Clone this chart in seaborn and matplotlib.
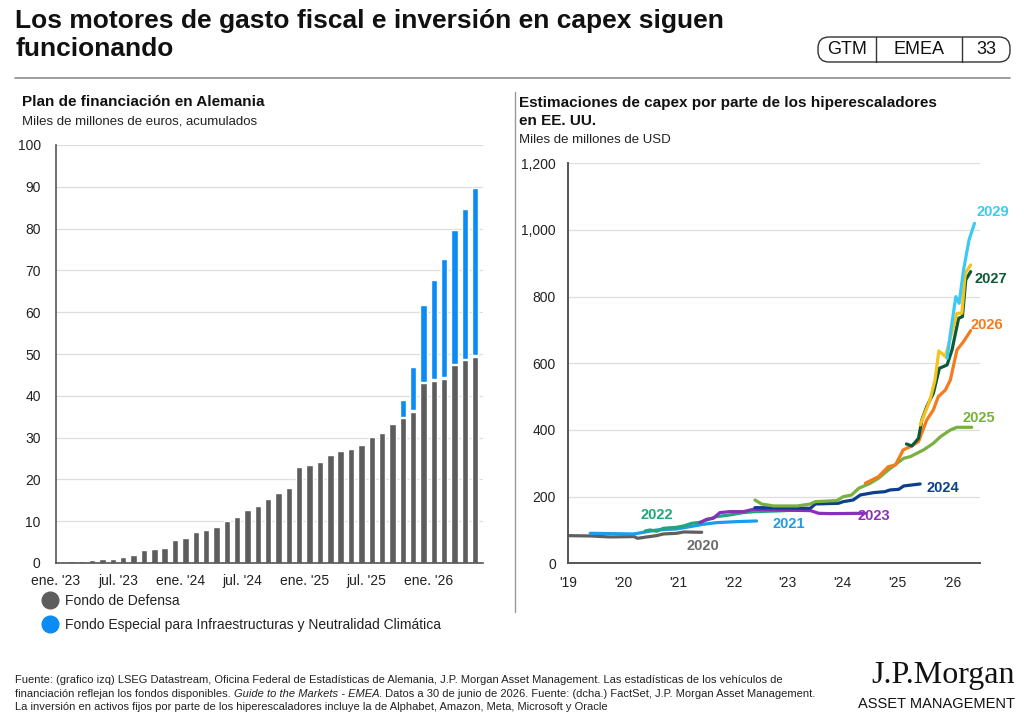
import matplotlib
matplotlib.use("Agg")
import matplotlib.pyplot as plt
import seaborn as sns
import pandas as pd
from matplotlib.lines import Line2D
from matplotlib.patches import FancyBboxPatch
from matplotlib.transforms import IdentityTransform

# ---- datos: plan de financiacion en Alemania (mensual, ene. 2023 - may. 2026)
meses = ["ene.", "feb.", "mar.", "abr.", "may.", "jun.",
         "jul.", "ago.", "sep.", "oct.", "nov.", "dic."]
fechas = [f"{meses[i % 12]} '{23 + i // 12}" for i in range(41)]

defensa = [0.25, 0.4, 0.55, 0.8, 0.9, 1.05, 1.35, 1.9, 3.0, 3.3, 3.7,
           5.6, 6.0, 7.4, 8.0, 8.6, 10.0, 11.0, 12.6, 13.7, 15.4, 16.8,
           17.9, 22.9, 23.5, 24.2, 25.9, 26.7, 27.3, 28.2, 30.1, 31.0,
           33.2, 34.6, 36.2, 43.0, 43.6, 44.1, 47.3, 48.5, 49.4]
especial = [0, 0, 0, 0, 0, 0, 0, 0, 0, 0, 0, 0, 0, 0, 0, 0, 0, 0, 0, 0,
            0, 0, 0, 0, 0, 0, 0, 0, 0, 0, 0, 0, 0,
            4.3, 10.6, 18.7, 24.2, 28.6, 32.3, 36.2, 40.4]
ticks_izq = ["ene. '23", "jul. '23", "ene. '24", "jul. '24",
             "ene. '25", "jul. '25", "ene. '26"]

# ---- datos: estimaciones de capex de los hiperescaladores (por año fiscal)
x2020 = [2019.0, 2019.4, 2019.76, 2020.13, 2020.2, 2020.26, 2020.43, 2020.61,
         2020.73, 2020.97, 2021.1, 2021.43]
y2020 = [83, 82, 79, 80, 80, 75, 79, 83, 88, 90, 94, 93]
x2021 = [2019.4, 2019.8, 2020.19, 2020.37, 2020.61, 2020.97, 2021.22, 2021.46,
         2021.7, 2022.06, 2022.43]
y2021 = [90, 89, 88, 93, 100, 103, 110, 117, 122, 125, 127]
x2022 = [2020.4, 2020.49, 2020.61, 2020.73, 2020.97, 2021.1, 2021.25, 2021.4,
         2021.7, 2021.94, 2022.19, 2022.4, 2022.8, 2023.22, 2023.4]
y2022 = [97, 100, 96, 105, 108, 112, 120, 123, 140, 145, 152, 155, 157, 160, 160]
x2023 = [2021.4, 2021.52, 2021.64, 2021.76, 2021.94, 2022.19, 2022.37, 2022.8,
         2023.41, 2023.47, 2023.56, 2023.77, 2024.4]
y2023 = [122, 132, 135, 152, 155, 155, 162, 160, 158, 155, 150, 149, 150]
x2024 = [2022.4, 2023.0, 2023.41, 2023.5, 2023.92, 2024.01, 2024.19, 2024.32,
         2024.56, 2024.77, 2024.86, 2025.02, 2025.11, 2025.41]
y2024 = [167, 166, 165, 178, 180, 185, 190, 205, 212, 215, 220, 222, 232, 238]
x2025 = [2022.4, 2022.52, 2022.74, 2023.17, 2023.41, 2023.5, 2023.89, 2024.01,
         2024.16, 2024.29, 2024.5, 2024.65, 2024.83, 2024.99, 2025.11, 2025.23,
         2025.47, 2025.65, 2025.78, 2025.96, 2026.08, 2026.35]
y2025 = [190, 178, 172, 172, 178, 185, 188, 200, 205, 225, 240, 255, 280, 300,
         315, 320, 340, 360, 380, 400, 408, 408]
x2026 = [2024.41, 2024.65, 2024.83, 2024.96, 2025.1, 2025.23, 2025.38, 2025.53,
         2025.65, 2025.74, 2025.87, 2025.96, 2026.08, 2026.2, 2026.33]
y2026 = [240, 260, 290, 295, 340, 350, 365, 430, 460, 500, 520, 550, 640, 665, 698]
x2027 = [2025.16, 2025.26, 2025.38, 2025.44, 2025.53, 2025.65, 2025.76, 2025.9,
         2025.99, 2026.11, 2026.18, 2026.24, 2026.33]
y2027 = [358, 352, 375, 430, 470, 510, 585, 595, 640, 735, 740, 850, 875]
x2028 = [2025.41, 2025.59, 2025.68, 2025.75, 2025.87, 2026.08, 2026.17, 2026.23,
         2026.33]
y2028 = [415, 490, 550, 637, 620, 750, 750, 870, 895]
x2029 = [2025.9, 2025.97, 2026.06, 2026.12, 2026.2, 2026.3, 2026.4]
y2029 = [615, 700, 800, 780, 880, 970, 1020]

series = {"2020": (x2020, y2020), "2021": (x2021, y2021), "2022": (x2022, y2022),
          "2023": (x2023, y2023), "2024": (x2024, y2024), "2025": (x2025, y2025),
          "2026": (x2026, y2026), "2027": (x2027, y2027), "2028": (x2028, y2028),
          "2029": (x2029, y2029)}
colores = {"2020": "#5f5f5f", "2021": "#1e9cec", "2022": "#1fa67a",
           "2023": "#8b2fb8", "2024": "#0c3f8c", "2025": "#78b13f",
           "2026": "#f47b20", "2027": "#0d5a38", "2028": "#f5c31c",
           "2029": "#3dcaf2"}
# posicion de las etiquetas (fecha, valor)
etiquetas = {"2020": (2021.46, 52), "2021": (2023.02, 118), "2022": (2020.62, 145),
             "2023": (2024.57, 142), "2024": (2025.83, 226), "2025": (2026.47, 436),
             "2026": (2026.63, 715), "2027": (2026.70, 853), "2029": (2026.74, 1054)}
color_etq = dict(colores, **{"2020": "#6b6b6b"})

sns.set_style("white")
plt.rcParams["font.family"] = ["Liberation Sans", "DejaVu Sans"]

fig = plt.figure(figsize=(10.24, 7.23), dpi=100)
W, H = 1024, 723


def fx(px):
    return px / W


def fy(py):
    return 1 - py / H


gris_txt = "#222222"

# ---- titulo y cabecera
fig.text(fx(15), fy(9), "Los motores de gasto fiscal e inversión en capex siguen\nfuncionando",
         fontsize=19, fontweight="bold", va="top", ha="left",
         linespacing=1.2, color="#111111")
fig.add_artist(Line2D([fx(15), fx(1010)], [fy(78), fy(78)], color="#8c8c8c", lw=1.2,
                      transform=fig.transFigure))
fig.add_artist(Line2D([fx(515), fx(515)], [fy(92), fy(612)], color="#9a9a9a", lw=1,
                      transform=fig.transFigure))

caja = FancyBboxPatch((818, H - 62), 192, 25, boxstyle="round,pad=0,rounding_size=11",
                      transform=IdentityTransform(), facecolor="white",
                      edgecolor="#333333", lw=1)
fig.add_artist(caja)
for xs in (876, 962):
    fig.add_artist(Line2D([xs, xs], [H - 62, H - 37], color="#333333", lw=1,
                          transform=IdentityTransform()))
for txt, xc in (("GTM", 847), ("EMEA", 919), ("33", 986)):
    fig.text(fx(xc), fy(50), txt, fontsize=13, ha="center", va="center",
             color="#111111")

# ---- grafico izquierdo
ax1 = fig.add_axes([fx(56), fy(563), fx(483) - fx(56), fy(145) - fy(563)])
df1 = pd.DataFrame({"fecha": fechas, "defensa": defensa, "especial": especial})
df1["total"] = df1["defensa"] + df1["especial"]
# hueco blanco fino entre las dos partes de la barra
df1["hueco"] = [d + 0.35 if e > 0 else 0 for d, e in zip(defensa, especial)]

sns.barplot(data=df1, x="fecha", y="total", color="#0a8cf4", width=0.62,
            saturation=1, ax=ax1)
sns.barplot(data=df1, x="fecha", y="hueco", color="white", width=0.62,
            saturation=1, ax=ax1)
sns.barplot(data=df1, x="fecha", y="defensa", color="#5d5d5d", width=0.62,
            saturation=1, ax=ax1)

ax1.set_xlim(-0.5, 40.75)
ax1.set_ylim(0, 100)
ax1.set_yticks(range(0, 101, 10))
ax1.set_xticks([i * 6 - 0.5 for i in range(len(ticks_izq))])
ax1.set_xticklabels(ticks_izq)
ax1.set_xlabel("")
ax1.set_ylabel("")
ax1.grid(axis="y", color="#dedede", lw=0.9)
ax1.set_axisbelow(True)
ax1.tick_params(axis="y", length=0, pad=11, labelsize=10, labelcolor=gris_txt)
ax1.tick_params(axis="x", length=5, width=1, color="#555555", pad=3,
                labelsize=10, labelcolor=gris_txt)
for s in ("top", "right"):
    ax1.spines[s].set_visible(False)
for s in ("left", "bottom"):
    ax1.spines[s].set_color("#555555")
    ax1.spines[s].set_linewidth(1.2)

fig.text(fx(22), fy(102), "Plan de financiación en Alemania", fontsize=11,
         fontweight="bold", va="center", color="#111111")
fig.text(fx(22), fy(121), "Miles de millones de euros, acumulados", fontsize=9.5,
         va="center", color=gris_txt)

handles = [Line2D([], [], marker="o", ls="", markersize=12, color="#5d5d5d"),
           Line2D([], [], marker="o", ls="", markersize=12, color="#0a8cf4")]
fig.legend(handles, ["Fondo de Defensa",
                     "Fondo Especial para Infraestructuras y Neutralidad Climática"],
           loc="upper left", bbox_to_anchor=(fx(36), fy(588)), frameon=False,
           fontsize=10, handletextpad=0.5, labelspacing=0.75, handlelength=1.2,
           borderaxespad=0, labelcolor=gris_txt)

# ---- grafico derecho
ax2 = fig.add_axes([fx(568.3), fy(563.3), fx(980) - fx(568.3), fy(163.3) - fy(563.3)])
filas = []
for nombre, (xs, ys) in series.items():
    for a, b in zip(xs, ys):
        filas.append({"serie": nombre, "fecha": a, "valor": b})
df2 = pd.DataFrame(filas)
sns.lineplot(data=df2, x="fecha", y="valor", hue="serie", hue_order=list(series),
             palette=colores, estimator=None, sort=False, linewidth=2.3,
             legend=False, ax=ax2)

for nombre, (xt, yt) in etiquetas.items():
    ax2.text(xt, yt, nombre, color=color_etq[nombre], fontsize=10.5,
             fontweight="bold", ha="center", va="center")

ax2.set_xlim(2019, 2026.5)
ax2.set_ylim(0, 1200)
ax2.set_yticks(range(0, 1201, 200))
ax2.set_yticklabels([f"{v:,}" for v in range(0, 1201, 200)])
ax2.set_xticks(range(2019, 2027))
ax2.set_xticklabels([f"'{a - 2000}" for a in range(2019, 2027)])
ax2.set_xlabel("")
ax2.set_ylabel("")
ax2.grid(axis="y", color="#dedede", lw=0.9)
ax2.set_axisbelow(True)
ax2.tick_params(axis="y", length=0, pad=9, labelsize=10, labelcolor=gris_txt)
ax2.tick_params(axis="x", length=5, width=1, color="#555555", pad=4,
                labelsize=10, labelcolor=gris_txt)
for s in ("top", "right"):
    ax2.spines[s].set_visible(False)
for s in ("left", "bottom"):
    ax2.spines[s].set_color("#555555")
    ax2.spines[s].set_linewidth(1.4)

fig.text(fx(519), fy(103), "Estimaciones de capex por parte de los hiperescaladores",
         fontsize=11, fontweight="bold", va="center", color="#111111")
fig.text(fx(519), fy(121), "en EE. UU.", fontsize=11, fontweight="bold",
         va="center", color="#111111")
fig.text(fx(519), fy(140), "Miles de millones de USD", fontsize=9.5, va="center",
         color=gris_txt)

# ---- pie de pagina
renderer = fig.canvas.get_renderer()
fs_pie = 8.0
fig.text(fx(15), fy(680), "Fuente: (grafico izq) LSEG Datastream, Oficina Federal de "
         "Estadísticas de Alemania, J.P. Morgan Asset Management. Las estadísticas de "
         "los vehículos de", fontsize=fs_pie, va="center", color=gris_txt)
trozos = [("financiación reflejan los fondos disponibles. ", "normal"),
          ("Guide to the Markets - EMEA.", "italic"),
          (" Datos a 30 de junio de 2026. Fuente: (dcha.) FactSet, J.P. Morgan Asset "
           "Management.", "normal")]
xpos = 15
for txt, estilo in trozos:
    t = fig.text(fx(xpos), fy(694), txt, fontsize=fs_pie,
                 style=estilo, va="center", color=gris_txt)
    xpos += t.get_window_extent(renderer).width
fig.text(fx(15), fy(707), "La inversión en activos fijos por parte de los "
         "hiperescaladores incluye la de Alphabet, Amazon, Meta, Microsoft y Oracle",
         fontsize=fs_pie, va="center", color=gris_txt)

fig.text(fx(1015), fy(675), "J.P.Morgan", fontsize=23, family=["Liberation Serif",
         "DejaVu Serif"], ha="right", va="center", color="#111111")
fig.text(fx(1015), fy(704), "ASSET MANAGEMENT", fontsize=10.5,
         ha="right", va="center", color="#111111")

fig.savefig("out.png", dpi=100)
